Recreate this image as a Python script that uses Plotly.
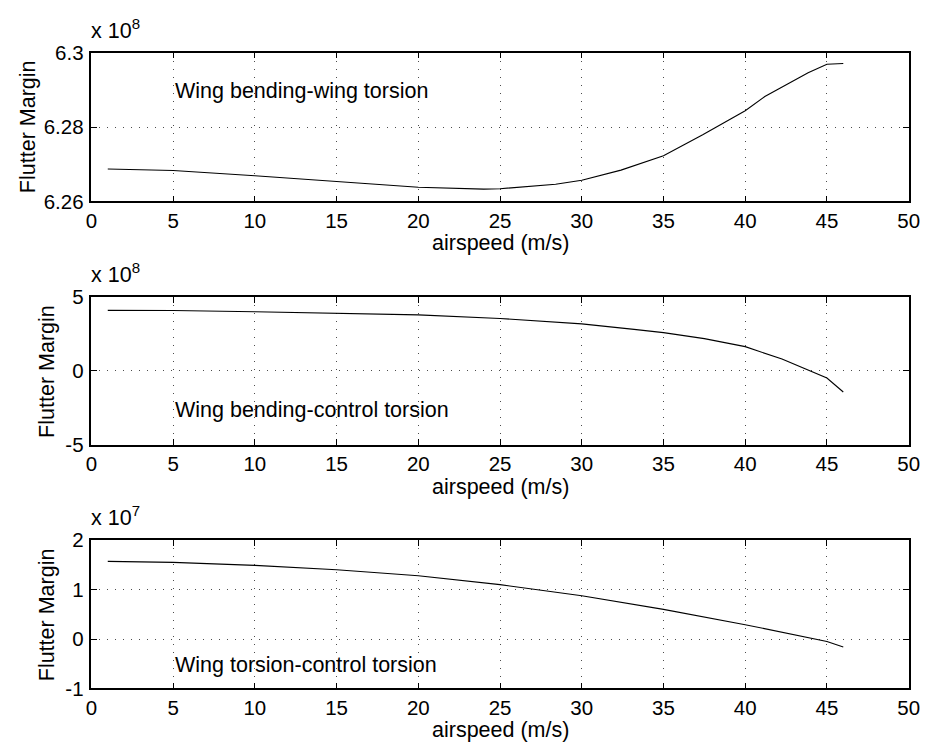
import plotly.graph_objects as go

# airspeed samples (m/s)
speed_1 = [1, 5, 10, 15, 20, 24, 25, 28.4, 30, 32.4, 35, 37.4, 40, 41.2, 42.85, 43.85, 45, 46]
margin_wb_wt = [6.2687, 6.2683, 6.2669, 6.2654, 6.2638, 6.2633, 6.2634, 6.2646, 6.2657, 6.2684,
                6.2723, 6.2779, 6.2844, 6.2882, 6.2923, 6.2946, 6.2969, 6.2971]  # x 1e8

speed_2 = [1, 5, 10, 15, 20, 25, 30, 33.2, 35, 37.5, 40, 42.25, 44, 45, 46]
margin_wb_ct = [4.08, 4.07, 3.99, 3.89, 3.78, 3.54, 3.17, 2.80, 2.58, 2.18, 1.64, 0.80, 0.02, -0.48, -1.42]  # x 1e8

speed_3 = [1, 5, 10, 15, 20, 25, 30, 35, 40, 45, 46]
margin_wt_ct = [1.57, 1.55, 1.49, 1.40, 1.28, 1.10, 0.876, 0.60, 0.29, -0.05, -0.16]  # x 1e7

x_ticks = [0, 5, 10, 15, 20, 25, 30, 35, 40, 45, 50]
y_ticks_1 = [6.26, 6.28, 6.3]
y_tick_text_1 = ["6.26", "6.28", "6.3"]
y_ticks_2 = [-5, 0, 5]
y_ticks_3 = [-1, 0, 1, 2]

labels = ["Wing bending-wing torsion", "Wing bending-control torsion", "Wing torsion-control torsion"]
label_y = [6.2896, -2.62, -0.52]
exponents = ["x 10<sup>8</sup>", "x 10<sup>8</sup>", "x 10<sup>7</sup>"]

W, H = 939, 756
x0, x1 = 87 / W, 919.3 / W
ydoms = [(1 - 195.3 / H, 1 - 42 / H), (1 - 446.7 / H, 1 - 293.7 / H), (1 - 697.7 / H, 1 - 544.7 / H)]
ytitle_x = [22.5 / W, 41.7 / W, 41.7 / W]

FAM = "Liberation Sans, Arial, Helvetica, sans-serif"
tick_font = dict(family=FAM, size=20.5, color="black")
font = dict(family=FAM, size=21.5, color="black")

fig = go.Figure()
series = [(speed_1, margin_wb_wt), (speed_2, margin_wb_ct), (speed_3, margin_wt_ct)]
for i, (xs, ys) in enumerate(series):
    sfx = "" if i == 0 else str(i + 1)
    fig.add_trace(go.Scatter(x=xs, y=ys, mode="lines", line=dict(color="black", width=1.1),
                             xaxis="x" + sfx, yaxis="y" + sfx, showlegend=False))

yranges = [(6.26, 6.30), (-5, 5), (-1, 2)]
ytickvals = [y_ticks_1, y_ticks_2, y_ticks_3]
yticktext = [y_tick_text_1, [str(v) for v in y_ticks_2], [str(v) for v in y_ticks_3]]

common = dict(showline=True, linecolor="black", linewidth=1.5, mirror="allticks", ticks="inside",
              ticklen=6, tickcolor="black", tickwidth=1, showgrid=True, gridcolor="rgba(0,0,0,0.7)",
              griddash="1px,7px", gridwidth=1, zeroline=False, tickfont=tick_font)

layout = dict(width=W, height=H, margin=dict(l=0, r=0, t=0, b=0), paper_bgcolor="white",
              plot_bgcolor="white", font=font, showlegend=False)
annotations = []
for i in range(3):
    sfx = "" if i == 0 else str(i + 1)
    layout["xaxis" + sfx] = dict(domain=[x0, x1], range=[0, 50], tickvals=x_ticks, anchor="y" + sfx,
                                 **common)
    layout["yaxis" + sfx] = dict(domain=list(ydoms[i]), range=list(yranges[i]), tickvals=ytickvals[i],
                                 ticktext=yticktext[i], anchor="x" + sfx, ticklabelstandoff=2, **common)
    annotations.append(dict(x=(x0 + x1) / 2, y=ydoms[i][0], xref="paper", yref="paper",
                            text="airspeed (m/s)", showarrow=False, xanchor="center", yanchor="middle",
                            yshift=-42, font=font))
    annotations.append(dict(x=ytitle_x[i], y=(ydoms[i][0] + ydoms[i][1]) / 2, xref="paper", yref="paper",
                            text="Flutter Margin", showarrow=False, textangle=-90,
                            xanchor="center", yanchor="middle", font=font))
    annotations.append(dict(x=5, y=label_y[i], xref="x" + sfx, yref="y" + sfx, text=labels[i],
                            showarrow=False, xanchor="left", yanchor="middle", font=font))
    annotations.append(dict(x=x0, y=ydoms[i][1], xref="paper", yref="paper", text=exponents[i],
                            showarrow=False, xanchor="left", yanchor="bottom", yshift=8, xshift=-2,
                            font=font))
layout["annotations"] = annotations
fig.update_layout(**layout)
fig.write_html("out.html")
